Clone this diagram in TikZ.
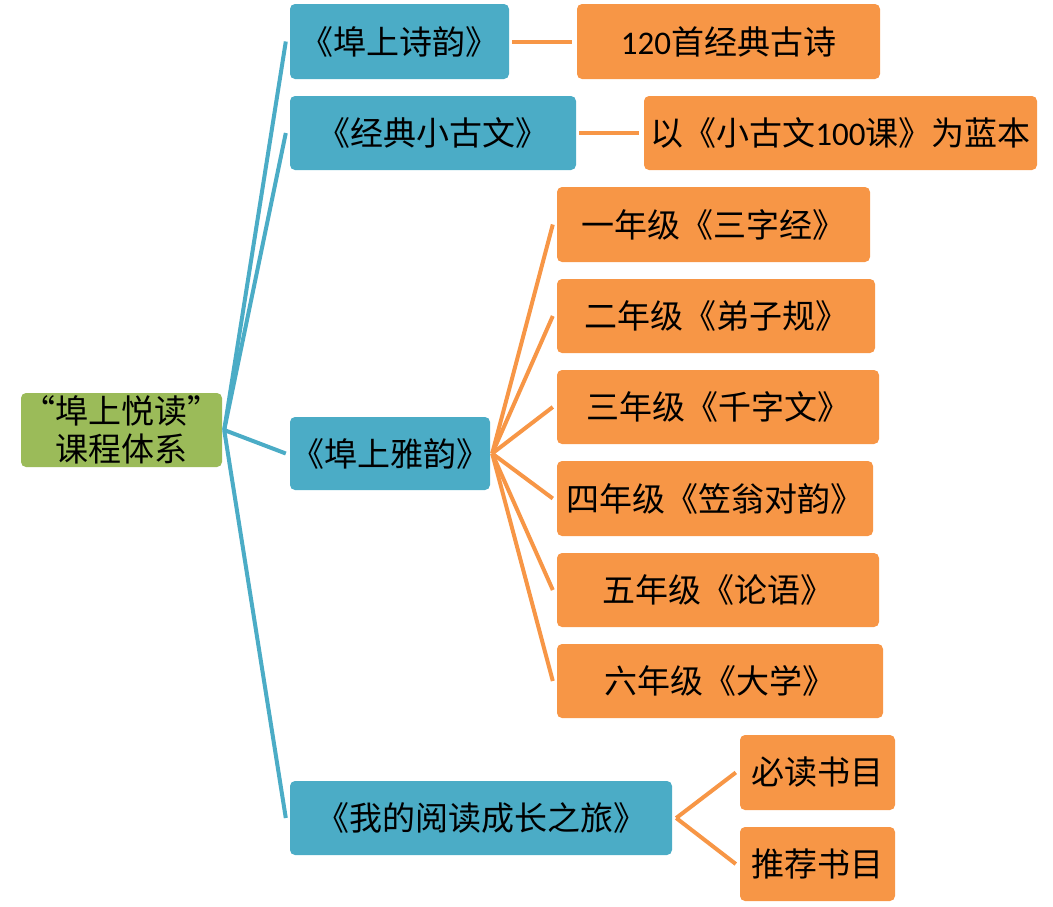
\documentclass[tikz,border=0pt]{standalone}
\usepackage{fontspec}
\setmainfont{Noto Sans CJK SC}
\newfontfamily\latinf{Carlito}
\definecolor{cgreen}{HTML}{9BBB59}
\definecolor{cblue}{HTML}{4BACC6}
\definecolor{corange}{HTML}{F79646}
\begin{document}
\begin{tikzpicture}[x=1pt,y=-1pt,
  box/.style={rectangle,rounded corners=5pt,inner sep=0pt,font=\fontsize{33}{38}\selectfont,text=black,align=center},
  gbox/.style={box,fill=cgreen},
  bbox/.style={box,fill=cblue},
  obox/.style={box,fill=corange},
  bl/.style={draw=cblue,line width=4pt},
  ol/.style={draw=corange,line width=4pt}]
\useasboundingbox (0,0) rectangle (1053,906);
% nodes
\node[gbox,minimum width=201pt,minimum height=74pt] (root) at (121.5,430) {“埠上悦读”\\课程体系};
\node[bbox,minimum width=219pt,minimum height=75pt] (b1) at (399.5,41.5) {《埠上诗韵》};
\node[bbox,minimum width=286pt,minimum height=74pt] (b2) at (433,133) {《经典小古文》};
\node[bbox,minimum width=200pt,minimum height=73pt] (b3) at (390,453.5) {《埠上雅韵》};
\node[bbox,minimum width=382pt,minimum height=74pt] (b4) at (481,818) {《我的阅读成长之旅》};
\node[obox,minimum width=303pt,minimum height=75pt] (o1) at (728.5,41.5) {{\latinf 120}首经典古诗};
\node[obox,minimum width=393pt,minimum height=74pt] (o2) at (840.5,133) {以《小古文{\latinf 100}课》为蓝本};
\node[obox,minimum width=313pt,minimum height=75pt] (y1) at (713.5,224.5) {一年级《三字经》};
\node[obox,minimum width=318pt,minimum height=74pt] (y2) at (716,316) {二年级《弟子规》};
\node[obox,minimum width=322pt,minimum height=74pt] (y3) at (718,407) {三年级《千字文》};
\node[obox,minimum width=316pt,minimum height=75pt] (y4) at (715,498.5) {四年级《笠翁对韵》};
\node[obox,minimum width=322pt,minimum height=74pt] (y5) at (718,590) {五年级《论语》};
\node[obox,minimum width=326pt,minimum height=74pt] (y6) at (720,681) {六年级《大学》};
\node[obox,minimum width=155pt,minimum height=75pt] (r1) at (817.5,772.5) {必读书目};
\node[obox,minimum width=155pt,minimum height=74pt] (r2) at (817.5,864) {推荐书目};
% connectors
\foreach \t in {b1,b2,b3,b4}
  \draw[bl] ([xshift=2pt]root.east) -- ([xshift=-4pt]\t.west);
\draw[ol] ([xshift=3pt]b1.east) -- ([xshift=-5pt]o1.west);
\draw[ol] ([xshift=3pt]b2.east) -- ([xshift=-5pt]o2.west);
\foreach \t in {y1,y2,y3,y4,y5,y6}
  \draw[ol] ([xshift=2pt]b3.east) -- ([xshift=-4pt]\t.west);
\foreach \t in {r1,r2}
  \draw[ol] ([xshift=4pt]b4.east) -- ([xshift=-4pt]\t.west);
\end{tikzpicture}
\end{document}
